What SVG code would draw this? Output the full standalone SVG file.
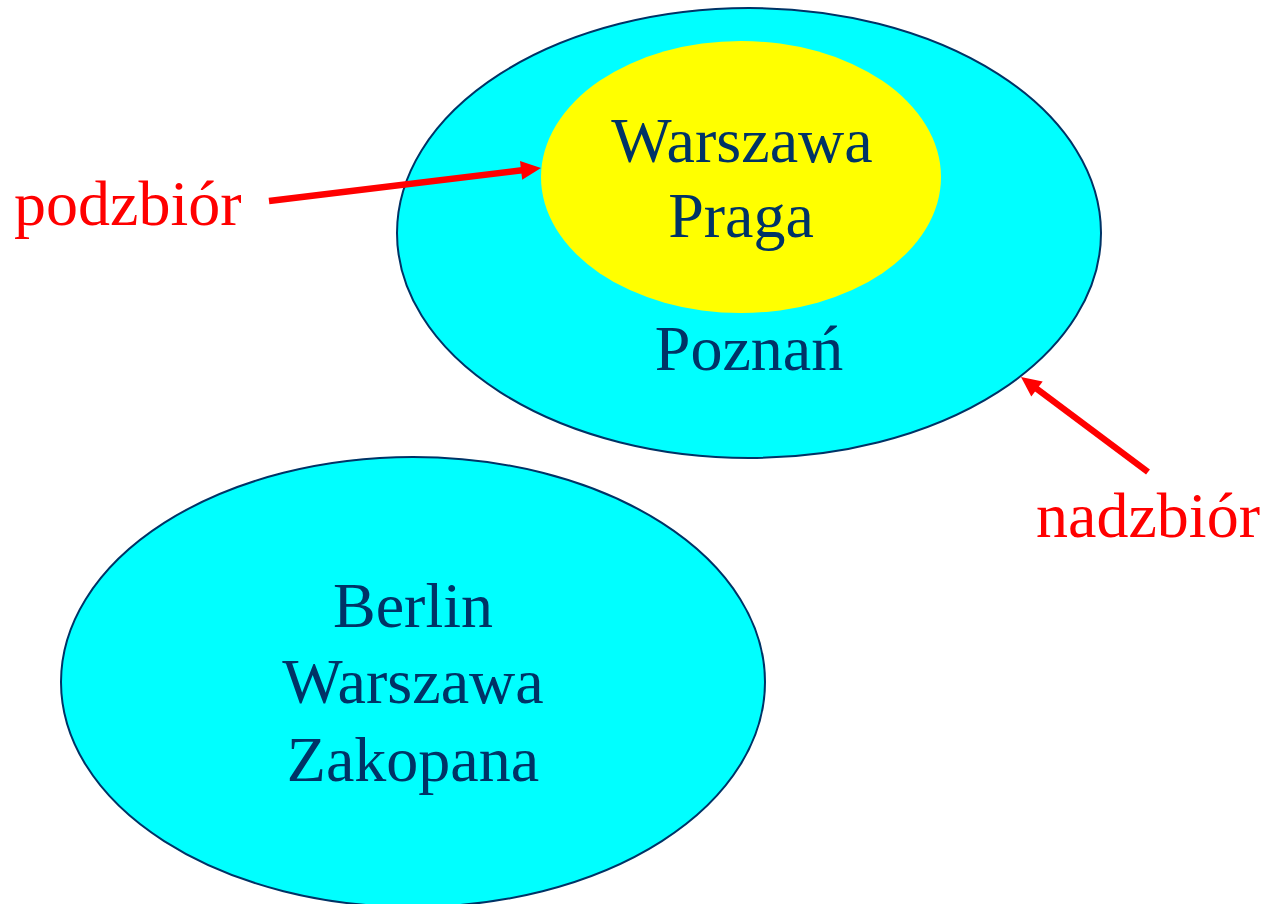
<svg xmlns="http://www.w3.org/2000/svg" width="1282" height="904" viewBox="0 0 1282 904">
<style>
.set{fill:#00FFFF;stroke:#003366;stroke-width:2}
.sub{fill:#FFFF00;stroke:none}
.t{font-family:"Liberation Serif","Times New Roman",serif;font-size:64px;fill:#003366;text-anchor:middle}
.lbl{font-family:"Liberation Serif","Times New Roman",serif;font-size:64px;fill:#FF0000}
.arr{stroke:#FF0000;stroke-width:6.5;fill:none}
.head{fill:#FF0000;stroke:none}
</style>
<rect width="1282" height="904" fill="#FFFFFF"/>
<g id="set1">
<ellipse class="set" cx="749" cy="233" rx="352" ry="225"/>
<text class="t" x="749" y="370">Poznań</text>
</g>
<g id="subset">
<ellipse class="sub" cx="741" cy="177" rx="200" ry="136"/>
<text class="t" x="742" y="162">Warszawa</text>
<text class="t" x="741" y="237">Praga</text>
</g>
<g id="set2">
<ellipse class="set" cx="413" cy="682" rx="352" ry="225"/>
<text class="t" x="413" y="627">Berlin</text>
<text class="t" x="413" y="703">Warszawa</text>
<text class="t" x="413" y="781">Zakopana</text>
</g>
<g id="label-podzbior">
<text class="lbl" x="14" y="225">podzbiór</text>
</g>
<g id="label-nadzbior">
<text class="lbl" x="1148" y="537" text-anchor="middle">nadzbiór</text>
</g>
<g id="connectors">
<line class="arr" x1="269" y1="201" x2="524" y2="170"/>
<polygon class="head" points="541,168 522.2,179.8 520,161"/>
<line class="arr" x1="1148" y1="472" x2="1035" y2="387.5"/>
<polygon class="head" points="1021,377 1042.7,381.4 1031.3,396.6"/>
</g>
</svg>
